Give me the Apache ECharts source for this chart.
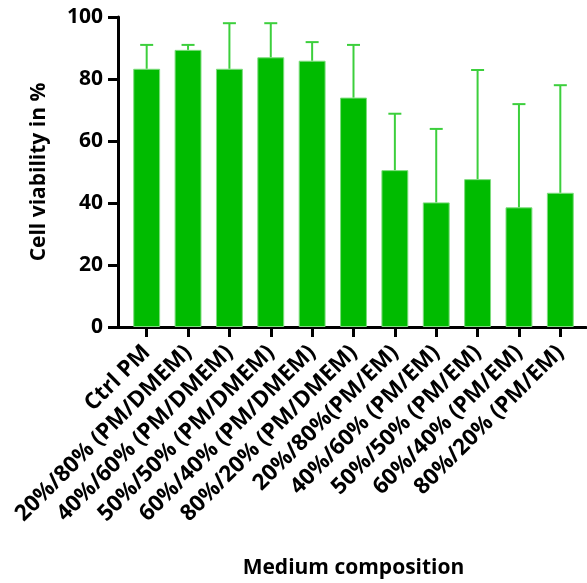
<!DOCTYPE html>
<html>
<head>
<meta charset="utf-8">
<script src="https://cdn.jsdelivr.net/npm/echarts@6/dist/echarts.min.js"></script>
<style>
  html, body { margin: 0; padding: 0; background: #fff; }
  #chart { width: 587px; height: 583px; }
</style>
</head>
<body>
<div id="chart"></div>
<script>
const categories = [
  'Ctrl PM',
  '20%/80% (PM/DMEM)',
  '40%/60% (PM/DMEM)',
  '50%/50% (PM/DMEM)',
  '60%/40% (PM/DMEM)',
  '80%/20% (PM/DMEM)',
  '20%/80%(PM/EM)',
  '40%/60% (PM/EM)',
  '50%/50% (PM/EM)',
  '60%/40% (PM/EM)',
  '80%/20% (PM/EM)'
];
const viability = [83.3, 89.4, 83.3, 87.0, 85.9, 74.0, 50.6, 40.2, 47.7, 38.6, 43.3];
const sd = [7.7, 1.6, 14.7, 11.0, 6.0, 17.0, 18.2, 23.7, 35.2, 33.3, 34.7];
const yTicks = [0, 20, 40, 60, 80, 100];

const font = '"Open Sans", "DejaVu Sans", sans-serif';
const barGreen = '#00bb00';
const errGreen = '#3ccf3c';

const chart = echarts.init(document.getElementById('chart'));

const option = {
  animation: false,
  backgroundColor: '#fff',
  grid: [
    { left: 126, right: 6, top: 17, bottom: 256, containLabel: false, outerBoundsMode: 'none' },
    // only used to draw the full-width x axis line
    { left: 117, right: 1, top: 17, bottom: 256, containLabel: false, outerBoundsMode: 'none' }
  ],
  xAxis: [
    {
      type: 'category',
      gridIndex: 0,
      data: categories,
      name: 'Medium composition',
      nameLocation: 'middle',
      nameGap: 231,
      nameTextStyle: { fontFamily: font, fontWeight: 'bold', fontSize: 21, color: '#000' },
      axisLine: { show: false },
      axisTick: { show: true, alignWithLabel: true, length: 10, lineStyle: { color: '#000', width: 3 } },
      axisLabel: {
        interval: 0,
        rotate: 45,
        margin: 22,
        padding: [24, 0, 0, 0],
        fontFamily: font,
        fontWeight: 'bold',
        fontSize: 22.5,
        color: '#000'
      }
    },
    {
      type: 'value',
      gridIndex: 1,
      min: 0,
      max: 1,
      axisLine: { show: true, onZero: false, lineStyle: { color: '#000', width: 3 } },
      axisTick: { show: false },
      axisLabel: { show: false },
      splitLine: { show: false }
    }
  ],
  yAxis: [
    {
      type: 'value',
      gridIndex: 0,
      min: yTicks[0],
      max: yTicks[yTicks.length - 1],
      interval: 20,
      offset: 8,
      name: 'Cell viability in %',
      nameLocation: 'middle',
      nameGap: 68,
      nameTextStyle: { fontFamily: font, fontWeight: 'bold', fontSize: 21, color: '#000' },
      axisLine: { show: true, lineStyle: { color: '#000', width: 3 } },
      axisTick: { show: true, length: 10, lineStyle: { color: '#000', width: 3 } },
      axisLabel: { margin: 15, fontFamily: font, fontWeight: 'bold', fontSize: 21, color: '#000' },
      splitLine: { show: false }
    },
    { type: 'value', gridIndex: 1, show: false, min: 0, max: 1 }
  ],
  series: [
    {
      name: 'Cell viability',
      type: 'bar',
      xAxisIndex: 0,
      yAxisIndex: 0,
      data: viability,
      barCategoryGap: '35%',
      itemStyle: { color: barGreen, borderColor: '#7ddc7d', borderWidth: 1 },
      z: 2
    },
    {
      name: 'SD',
      type: 'custom',
      xAxisIndex: 0,
      yAxisIndex: 0,
      data: viability.map((v, i) => [i, v, v + sd[i]]),
      z: 3,
      renderItem: (params, api) => {
        const base = api.coord([api.value(0), api.value(1)]);
        const top = api.coord([api.value(0), api.value(2)]);
        const half = 6.5;
        const style = { stroke: errGreen, lineWidth: 2 };
        return {
          type: 'group',
          children: [
            { type: 'line', shape: { x1: base[0], y1: base[1], x2: top[0], y2: top[1] }, style },
            { type: 'line', shape: { x1: top[0] - half, y1: top[1], x2: top[0] + half, y2: top[1] }, style }
          ]
        };
      }
    }
  ]
};

chart.setOption(option);
</script>
</body>
</html>
